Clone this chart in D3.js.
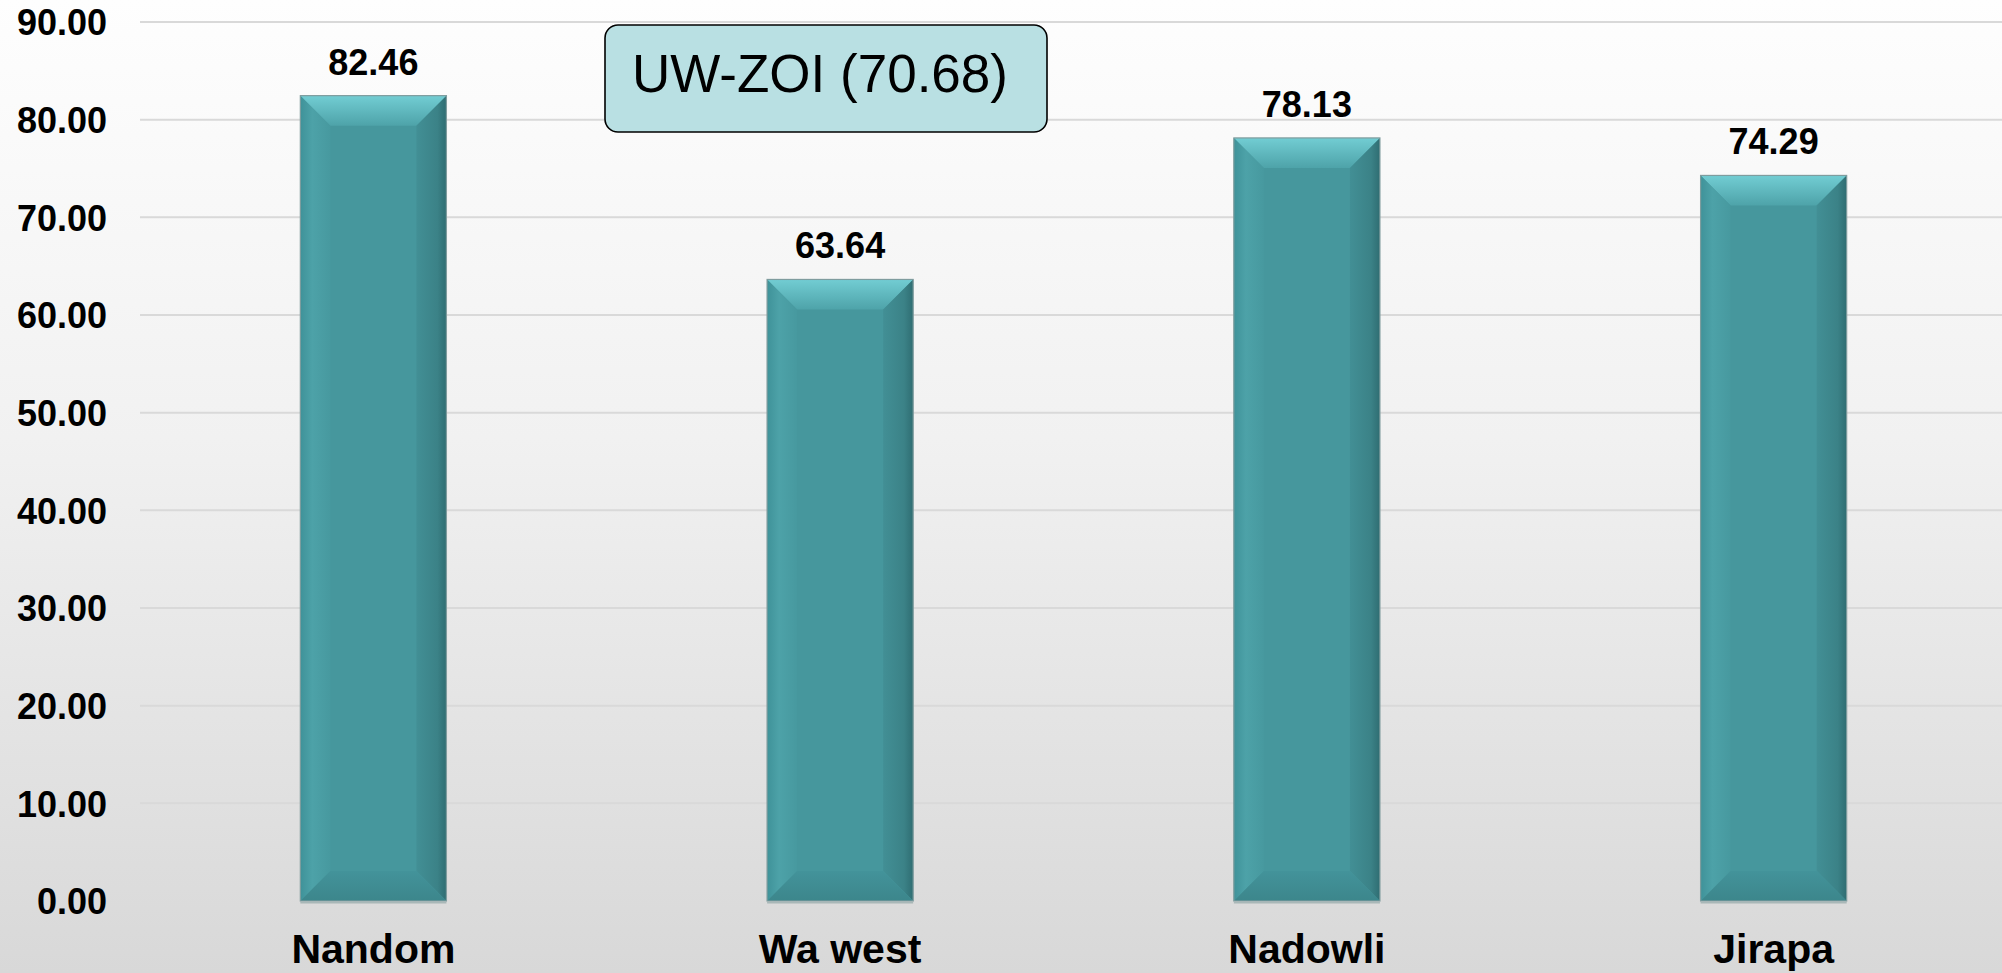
<!DOCTYPE html>
<html>
<head>
<meta charset="utf-8">
<script src="https://cdn.jsdelivr.net/npm/d3@7"></script>
<style>
  html, body { margin: 0; padding: 0; overflow: hidden; }
  body { width: 2002px; height: 973px; }
  svg { display: block; font-family: "Liberation Sans", Arial, sans-serif; }
</style>
</head>
<body>
<svg id="chart" width="2002" height="973"></svg>
<script>
const categories = ["Nandom", "Wa west", "Nadowli", "Jirapa"];
const values = [82.46, 63.64, 78.13, 74.29];
const yTicks = [0, 10, 20, 30, 40, 50, 60, 70, 80, 90];
const annotationText = "UW-ZOI (70.68)";

const W = 2002, H = 973;
const svg = d3.select("#chart");
const defs = svg.append("defs");

// background gradient
const bg = defs.append("linearGradient").attr("id", "bg").attr("x1", 0).attr("y1", 0).attr("x2", 0).attr("y2", 1);
bg.append("stop").attr("offset", "0%").attr("stop-color", "#fefefe");
bg.append("stop").attr("offset", "45%").attr("stop-color", "#f1f1f1");
bg.append("stop").attr("offset", "100%").attr("stop-color", "#d8d8d8");
svg.append("rect").attr("width", W).attr("height", H).attr("fill", "url(#bg)");

// bar gradients
const gTop = defs.append("linearGradient").attr("id", "gTop").attr("x1", 0).attr("y1", 0).attr("x2", 0).attr("y2", 1);
gTop.append("stop").attr("offset", "0%").attr("stop-color", "#72cdd3");
gTop.append("stop").attr("offset", "100%").attr("stop-color", "#4ea3a9");
const gLeft = defs.append("linearGradient").attr("id", "gLeft").attr("x1", 0).attr("y1", 0).attr("x2", 1).attr("y2", 0);
gLeft.append("stop").attr("offset", "0%").attr("stop-color", "#3f9299");
gLeft.append("stop").attr("offset", "40%").attr("stop-color", "#4da2a8");
gLeft.append("stop").attr("offset", "100%").attr("stop-color", "#47999f");
const gRight = defs.append("linearGradient").attr("id", "gRight").attr("x1", 0).attr("y1", 0).attr("x2", 1).attr("y2", 0);
gRight.append("stop").attr("offset", "0%").attr("stop-color", "#428f95");
gRight.append("stop").attr("offset", "70%").attr("stop-color", "#3b8287");
gRight.append("stop").attr("offset", "100%").attr("stop-color", "#2f6d72");
const gBot = defs.append("linearGradient").attr("id", "gBot").attr("x1", 0).attr("y1", 0).attr("x2", 0).attr("y2", 1);
gBot.append("stop").attr("offset", "0%").attr("stop-color", "#43939a");
gBot.append("stop").attr("offset", "100%").attr("stop-color", "#3c868b");

const x = d3.scaleBand().domain(categories).range([140, 2007]).paddingInner(0.687).paddingOuter(0.3435);
const y = d3.scaleLinear().domain([0, 90]).range([901, 22]);

// gridlines
svg.append("g").selectAll("line").data(yTicks.filter(d => d > 0)).join("line")
  .attr("x1", 140).attr("x2", W)
  .attr("y1", d => y(d)).attr("y2", d => y(d))
  .attr("stroke", "#d9d9d9").attr("stroke-width", 2);

// y axis labels
const yAxis = d3.axisLeft(y).tickValues(yTicks).tickFormat(d3.format(".2f")).tickSize(0).tickPadding(0);
const ya = svg.append("g").attr("transform", "translate(107,0)").call(yAxis);
ya.select(".domain").remove();
ya.selectAll("text").attr("font-size", 36).attr("font-weight", "bold").attr("fill", "#000")
  .attr("font-family", "'Liberation Sans', Arial, sans-serif").attr("dy", "0.36em");

// bars with bevel
const bev = 30;
const bars = svg.append("g").selectAll("g").data(categories.map((c, i) => ({ c, v: values[i] }))).join("g");
bars.each(function (d) {
  const g = d3.select(this);
  const x0 = x(d.c), x1 = x0 + x.bandwidth();
  const y0 = y(d.v), y1 = y(0);
  const b = Math.min(bev, (y1 - y0) / 2);
  g.append("rect").attr("x", x0).attr("y", y0).attr("width", x1 - x0).attr("height", y1 - y0).attr("fill", "#46979d");
  g.append("path").attr("d", `M${x0},${y0}L${x1},${y0}L${x1 - b},${y0 + b}L${x0 + b},${y0 + b}Z`).attr("fill", "url(#gTop)");
  g.append("path").attr("d", `M${x0},${y0}L${x0 + b},${y0 + b}L${x0 + b},${y1 - b}L${x0},${y1}Z`).attr("fill", "url(#gLeft)");
  g.append("path").attr("d", `M${x1},${y0}L${x1 - b},${y0 + b}L${x1 - b},${y1 - b}L${x1},${y1}Z`).attr("fill", "url(#gRight)");
  g.append("path").attr("d", `M${x0},${y1}L${x0 + b},${y1 - b}L${x1 - b},${y1 - b}L${x1},${y1}Z`).attr("fill", "url(#gBot)");
  g.append("rect").attr("x", x0).attr("y", y0).attr("width", x1 - x0).attr("height", y1 - y0)
    .attr("fill", "none").attr("stroke", "#7f9c9e").attr("stroke-width", 1.2);
  g.append("line").attr("x1", x0).attr("x2", x1).attr("y1", y1 + 1.5).attr("y2", y1 + 1.5)
    .attr("stroke", "#a9b8b8").attr("stroke-width", 2);
  g.append("text").attr("x", (x0 + x1) / 2).attr("y", y0 - 21)
    .attr("text-anchor", "middle").attr("font-size", 36).attr("font-weight", "bold").attr("fill", "#000")
    .text(d3.format(".2f")(d.v));
});

// category labels
svg.append("g").selectAll("text").data(categories).join("text")
  .attr("x", d => x(d) + x.bandwidth() / 2).attr("y", 963)
  .attr("text-anchor", "middle").attr("font-size", 41).attr("font-weight", "bold").attr("fill", "#000")
  .text(d => d);

// annotation box
const ann = svg.append("g");
ann.append("rect").attr("x", 605).attr("y", 25).attr("width", 442).attr("height", 107)
  .attr("rx", 13).attr("ry", 13).attr("fill", "#b9e0e3").attr("stroke", "#000").attr("stroke-width", 1.6);
ann.append("text").attr("x", 632).attr("y", 91.5).attr("font-size", 53).attr("fill", "#000").text(annotationText);
</script>
</body>
</html>
